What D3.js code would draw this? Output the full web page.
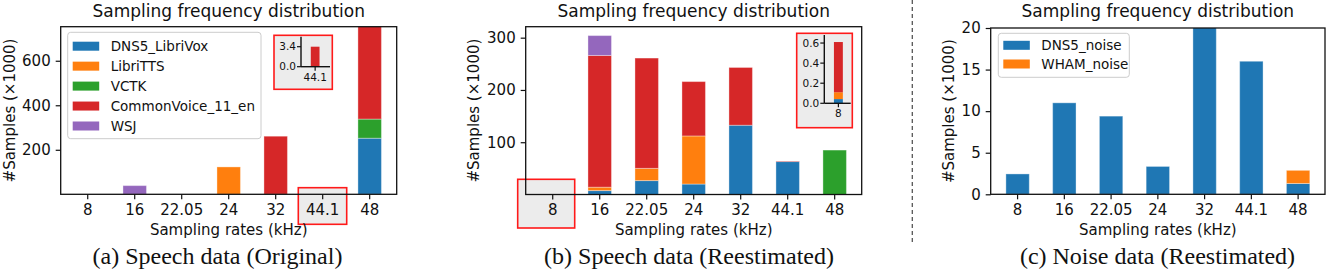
<!DOCTYPE html>
<html><head><meta charset="utf-8">
<script src="https://cdn.jsdelivr.net/npm/d3@7"></script>
<style>
html,body{margin:0;padding:0;background:#fff;}
svg{display:block;font-family:"DejaVu Sans",sans-serif;}
</style></head>
<body>
<svg id="chart" width="1328" height="278"></svg>
<script>
// ---------- data ----------
const rates = ["8", "16", "22.05", "24", "32", "44.1", "48"];
const speechSeries = ["DNS5_LibriVox", "LibriTTS", "VCTK", "CommonVoice_11_en", "WSJ"];
const noiseSeries = ["DNS5_noise", "WHAM_noise"];

// (a) original, in thousands
const origDNS5 = [0, 0, 0, 0, 0, 0, 252];
const origLibriTTS = [0, 0, 0, 123, 0, 0, 0];
const origVCTK = [0, 0, 0, 0, 0, 0, 86];
const origCommonVoice = [0, 0, 0, 0, 261, 3.4, 440];
const origWSJ = [0, 39, 0, 0, 0, 0, 0];

// (b) reestimated, in thousands
const reDNS5 = [0.042, 7.5, 26.6, 20, 132.5, 63, 0];
const reLibriTTS = [0.068, 6.5, 23.4, 92, 0, 0, 0];
const reVCTK = [0, 0, 0, 0, 0, 0, 85];
const reCommonVoice = [0.5, 252, 211, 104, 110.5, 1, 0];
const reWSJ = [0, 38, 0, 0, 0, 0, 0];

// (c) noise, in thousands
const noiseDNS5 = [2.45, 11.0, 9.4, 3.35, 20.5, 16.0, 1.3];
const noiseWHAM = [0, 0, 0, 0, 0, 0, 1.58];

const yTicksA = [200, 400, 600];
const yTicksB = [100, 200, 300];
const yTicksC = [0, 5, 10, 15, 20];
const insetTicksA = [0, 3.4];
const insetTicksB = [0, 0.2, 0.4, 0.6];

const titleText = "Sampling frequency distribution";
const xLabel = "Sampling rates (kHz)";
const yLabel = "#Samples (×1000)";
const captions = ["(a) Speech data (Original)", "(b) Speech data (Reestimated)", "(c) Noise data (Reestimated)"];

const colors = ["#1f77b4", "#ff7f0e", "#2ca02c", "#d62728", "#9467bd"];

function table(series, arrays) {
  return rates.map((r, i) => {
    const o = {rate: r};
    series.forEach((s, j) => o[s] = arrays[j][i]);
    return o;
  });
}
const dataA = table(speechSeries, [origDNS5, origLibriTTS, origVCTK, origCommonVoice, origWSJ]);
const dataB = table(speechSeries, [reDNS5, reLibriTTS, reVCTK, reCommonVoice, reWSJ]);
const dataC = table(noiseSeries, [noiseDNS5, noiseWHAM]);

// ---------- drawing ----------
const svg = d3.select("#chart");
const defs = svg.append("defs");
const INK = "#111";

function panel(cfg) {
  const g = svg.append("g");
  const x = d3.scaleBand().domain(rates).range([cfg.x0, cfg.x1]).paddingInner(0.5).paddingOuter(0.325);
  const y = d3.scaleLinear().domain(cfg.yDomain).range([cfg.y1, cfg.y0]);
  const clipId = "clip" + cfg.id;
  defs.append("clipPath").attr("id", clipId).append("rect")
    .attr("x", cfg.x0).attr("y", cfg.y0).attr("width", cfg.x1 - cfg.x0).attr("height", cfg.y1 - cfg.y0);

  const stacked = d3.stack().keys(cfg.series)(cfg.data);
  const bars = g.append("g").attr("clip-path", `url(#${clipId})`);
  stacked.forEach((layer, k) => {
    bars.append("g").attr("fill", colors[k])
      .selectAll("rect").data(layer.filter(d => d[1] - d[0] > 0)).join("rect")
      .attr("x", d => x(d.data.rate))
      .attr("width", x.bandwidth())
      .attr("y", d => y(d[1]))
      .attr("height", d => y(d[0]) - y(d[1]))
      .attr("stroke", "#fff").attr("stroke-opacity", 0.35).attr("stroke-width", 1);
  });

  if (cfg.highlight) cfg.highlight(g, x, y);

  // axes
  const ya = g.append("g").attr("transform", `translate(${cfg.x0},0)`)
    .call(d3.axisLeft(y).tickValues(cfg.yTicks).tickSize(5).tickPadding(5).tickFormat(d3.format("d")));
  const xa = g.append("g").attr("transform", `translate(0,${cfg.y1})`)
    .call(d3.axisBottom(x).tickSize(5).tickPadding(5));
  [ya, xa].forEach(a => {
    a.select(".domain").remove();
    a.selectAll("line").attr("stroke", INK).attr("stroke-width", 1.2);
    a.selectAll("text").attr("fill", INK).style("font-size", "15px").style("font-family", "DejaVu Sans");
  });
  g.append("rect").attr("x", cfg.x0).attr("y", cfg.y0)
    .attr("width", cfg.x1 - cfg.x0).attr("height", cfg.y1 - cfg.y0)
    .attr("fill", "none").attr("stroke", INK).attr("stroke-width", 1.3);

  // title, labels
  const cx = (cfg.x0 + cfg.x1) / 2;
  g.append("text").attr("x", cx).attr("y", 16.5).attr("text-anchor", "middle")
    .style("font-size", "17px").attr("fill", INK).text(titleText);
  g.append("text").attr("x", cx).attr("y", 235).attr("text-anchor", "middle")
    .style("font-size", "15px").attr("fill", INK).text(xLabel);
  g.append("text").attr("transform", `translate(${cfg.ylabX},${(cfg.y0 + cfg.y1) / 2}) rotate(-90)`)
    .attr("text-anchor", "middle").attr("dy", "0.35em")
    .style("font-size", "15px").attr("fill", INK).text(yLabel);
  g.append("text").attr("x", cfg.capX).attr("y", 264).attr("text-anchor", "middle")
    .style("font-family", "'Liberation Serif','Times New Roman',serif").style("font-size", "24px")
    .attr("fill", INK).text(cfg.caption);

  // legend
  if (cfg.legend) {
    const L = cfg.legend;
    const lg = g.append("g");
    lg.append("rect").attr("x", L.x).attr("y", L.y).attr("width", L.w).attr("height", L.h)
      .attr("rx", 3).attr("fill", "#fff").attr("fill-opacity", 0.8).attr("stroke", "#ccc").attr("stroke-width", 1);
    cfg.series.forEach((s, i) => {
      const cy = L.firstY + i * L.step;
      lg.append("rect").attr("x", L.x + 5).attr("y", cy - 4.5).attr("width", 26.5).attr("height", 9)
        .attr("fill", colors[i]);
      lg.append("text").attr("x", L.x + 43).attr("y", cy).attr("dy", "0.36em")
        .style("font-size", "13.5px").attr("fill", INK).text(s);
    });
  }

  if (cfg.inset) cfg.inset(g, x, y);
  return {x, y, g};
}

function redBox(g, x0, y0, x1, y1) {
  g.append("rect").attr("x", x0).attr("y", y0).attr("width", x1 - x0).attr("height", y1 - y0)
    .attr("fill", "#ececec").attr("stroke", "#ff1a1a").attr("stroke-width", 1.6);
}

function inset(g, box, ax, dataRows, series, ticks, cat) {
  redBox(g, box[0], box[1], box[2], box[3]);
  const xi = d3.scaleLinear().domain(ax.xDomain).range([ax.left, ax.right]);
  const yi = d3.scaleLinear().domain(ax.yDomain).range([ax.bottom, ax.top]);
  const row = dataRows.find(d => d.rate === cat);
  const st = d3.stack().keys(series)([row]);
  st.forEach((layer, k) => {
    const d = layer[0];
    if (d[1] - d[0] <= 0) return;
    g.append("rect").attr("x", xi(-0.25)).attr("width", xi(0.25) - xi(-0.25))
      .attr("y", yi(d[1])).attr("height", yi(d[0]) - yi(d[1]))
      .attr("fill", colors[k]);
  });
  // spines
  g.append("line").attr("x1", ax.left).attr("x2", ax.left).attr("y1", ax.top).attr("y2", ax.bottom)
    .attr("stroke", INK).attr("stroke-width", 1.4);
  g.append("line").attr("x1", ax.left).attr("x2", ax.right).attr("y1", ax.bottom).attr("y2", ax.bottom)
    .attr("stroke", INK).attr("stroke-width", 1.4);
  ticks.forEach(t => {
    g.append("line").attr("x1", ax.left - 4).attr("x2", ax.left).attr("y1", yi(t)).attr("y2", yi(t))
      .attr("stroke", INK).attr("stroke-width", 1.2);
    g.append("text").attr("x", ax.left - 5).attr("y", yi(t)).attr("dy", "0.36em").attr("text-anchor", "end")
      .style("font-size", "10.5px").attr("fill", INK).text(d3.format(".1f")(t));
  });
  g.append("line").attr("x1", xi(0)).attr("x2", xi(0)).attr("y1", ax.bottom).attr("y2", ax.bottom + 4)
    .attr("stroke", INK).attr("stroke-width", 1.2);
  g.append("text").attr("x", xi(0)).attr("y", ax.bottom + 14).attr("text-anchor", "middle")
    .style("font-size", "10.5px").attr("fill", INK).text(cat);
}

panel({
  id: "a", x0: 60.7, x1: 396.7, y0: 26.7, y1: 194.3, yDomain: [0, 753], yTicks: yTicksA,
  data: dataA, series: speechSeries, ylabX: 10, capX: 217.5, caption: captions[0],
  legend: {x: 67.7, y: 32.3, w: 193.3, h: 106.4, firstY: 46.2, step: 19.95},
  highlight: (g, x, y) => redBox(g, 298.3, 187.7, 346.7, 224.3),
  inset: (g) => inset(g, [274, 35.3, 332.3, 89.3],
    {left: 301, right: 330, top: 36.7, bottom: 66.7, xDomain: [-0.81, 0.85], yDomain: [0, 5.1]},
    dataA, speechSeries, insetTicksA, "44.1")
});

panel({
  id: "b", x0: 525.7, x1: 861.7, y0: 26.7, y1: 194.5, yDomain: [0, 321], yTicks: yTicksB,
  data: dataB, series: speechSeries, ylabX: 474, capX: 689, caption: captions[1],
  highlight: (g, x, y) => redBox(g, 517.7, 179.3, 574.7, 228),
  inset: (g) => inset(g, [796.7, 33.3, 852.3, 127.7],
    {left: 824.3, right: 850.7, top: 35, bottom: 103.3, xDomain: [-0.79, 0.69], yDomain: [0, 0.68]},
    dataB, speechSeries, insetTicksB, "8")
});

panel({
  id: "c", x0: 990.7, x1: 1325, y0: 28, y1: 194.3, yDomain: [0, 20], yTicks: yTicksC,
  data: dataC, series: noiseSeries, ylabX: 948.5, capX: 1157.5, caption: captions[2],
  legend: {x: 998.3, y: 33.3, w: 131, h: 44, firstY: 45.3, step: 18.7}
});

// separator
svg.append("line").attr("x1", 912.3).attr("x2", 912.3).attr("y1", 0).attr("y2", 243)
  .attr("stroke", "#555").attr("stroke-width", 1.3).attr("stroke-dasharray", "4,3");
</script>
</body></html>
